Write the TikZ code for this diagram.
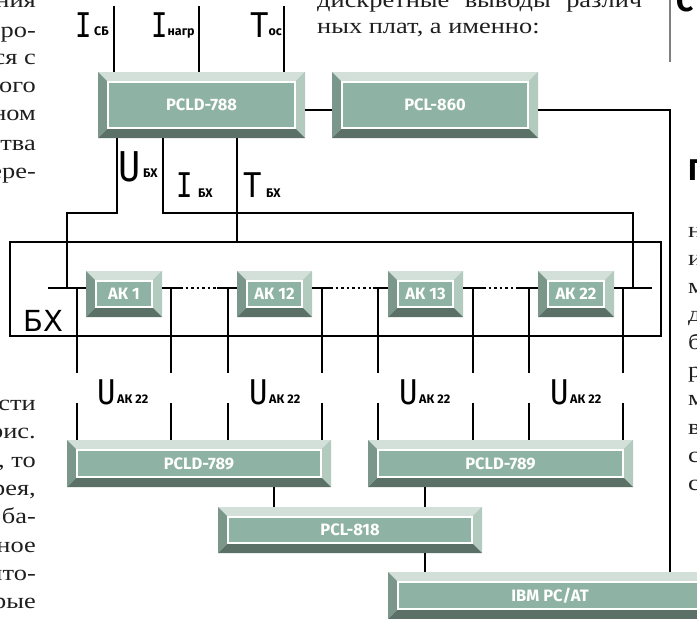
\documentclass[tikz,border=0pt]{standalone}
\usepackage{fontspec}
\usepackage{graphicx}
\newfontfamily\monofam{DejaVu Sans Mono}
\newfontfamily\dvsans{DejaVu Sans}
\newfontfamily\serfam[FakeStretch=1.2]{Liberation Serif}
\newfontfamily\firafam{Fira Sans}
\newcommand\bigfnt{\monofam\fontsize{34}{34}\selectfont}
\newcommand\bigfntL{\monofam\fontsize{41}{41}\selectfont}
\newcommand\subfnt{\firafam\bfseries\fontsize{12.5}{13}\selectfont}
\newcommand\boxfnt{\firafam\bfseries\fontsize{16.5}{17}\selectfont}
\newcommand\serfnt{\serfam\fontsize{22}{24}\selectfont}
\newcommand\headfnt{\firafam\bfseries\fontsize{30}{31}\selectfont}
\newcommand\bigltr[1]{\scalebox{0.9}[1]{#1}}
\newcommand\bigltrI[1]{\scalebox{0.8}[1]{#1}}
% big letter + subscript: #1 letter box, #2 gap, #3 raise, #4 subscript
\newcommand\sig[4]{#1\hspace*{#2}\raisebox{#3}{\subfnt #4}}
\definecolor{bvtop}{HTML}{D3E0DA}
\definecolor{bvleft}{HTML}{7B978C}
\definecolor{bvright}{HTML}{B3CABF}
\definecolor{bvbot}{HTML}{5B7067}
\definecolor{bvface}{HTML}{8EB2A4}
\tikzset{
  wire/.style={line width=2.2pt, line join=miter},
  dotw/.style={line width=2.2pt, dash pattern=on 2.6pt off 2.9pt},
  lbl/.style={inner sep=0, anchor=base west, font=\bigfnt},
  bodytxt/.style={inner sep=0, font=\serfnt, text=black!88},
  bev/.style={draw=none, fill=bvface, inner sep=0, text=white, font=\boxfnt,
    path picture={
      \coordinate (bvA) at (path picture bounding box.north west);
      \coordinate (bvB) at (path picture bounding box.north east);
      \coordinate (bvC) at (path picture bounding box.south east);
      \coordinate (bvD) at (path picture bounding box.south west);
      \coordinate (bva) at ([shift={(10pt,-10pt)}]bvA);
      \coordinate (bvb) at ([shift={(-10pt,-10pt)}]bvB);
      \coordinate (bvc) at ([shift={(-10pt,10pt)}]bvC);
      \coordinate (bvd) at ([shift={(10pt,10pt)}]bvD);
      \fill[bvtop] (bvA)--(bvB)--(bvb)--(bva)--cycle;
      \fill[bvright] (bvB)--(bvC)--(bvc)--(bvb)--cycle;
      \fill[bvbot] (bvC)--(bvD)--(bvd)--(bvc)--cycle;
      \fill[bvleft] (bvD)--(bvA)--(bva)--(bvd)--cycle;
      \draw[white, line width=1.3pt] (bva) rectangle (bvc);
    }}
}
\begin{document}
\begin{tikzpicture}[x=1pt,y=-1pt]
\useasboundingbox (0,0) rectangle (697,619);
\clip (0,0) rectangle (697,619);

% ---------- boxes (positions) ----------
\path
  node[bev, minimum width=207pt, minimum height=66pt] (pcld788) at (201.5,105) {PCLD-788}
  node[bev, minimum width=206pt, minimum height=66pt] (pcl860) at (435,105) {PCL-860}
  node[bev, minimum width=264pt, minimum height=47pt] (pcld789a) at (199,463.5) {PCLD-789}
  node[bev, minimum width=265pt, minimum height=47pt] (pcld789b) at (500.5,463.5) {PCLD-789}
  node[bev, minimum width=264pt, minimum height=46pt] (pcl818) at (350,530) {PCL-818}
  node[bev, minimum width=324pt, minimum height=47pt] (ibm) at (550,595.5) {IBM PC/AT};

% ---------- BX frame ----------
\node[draw, wire, inner sep=0, minimum width=651pt, minimum height=94pt] (bx) at (335.5,289) {};

% ---------- coordinates ----------
\coordinate (hl) at (0,110);
\coordinate (bus) at (0,288);
\coordinate (rc) at (670,110);
\coordinate (ua) at (117,213); \coordinate (ub) at (67,213); \coordinate (uc) at (67,288);
\coordinate (ia) at (163,213); \coordinate (ib) at (633,213); \coordinate (ic) at (633,288);
\coordinate (ta) at (237,0);
\coordinate (k1) at (274,0);
\coordinate (k2) at (425,0);
\coordinate (busL) at (48,288); \coordinate (busR) at (652,288);
\coordinate (d1a) at (180,288); \coordinate (d1b) at (217,288);
\coordinate (d2a) at (330,288); \coordinate (d2b) at (373,288);
\coordinate (d3a) at (483,288); \coordinate (d3b) at (518,288);

% ---------- wires ----------
\foreach \x/\n in {114/a,199/b,284/c}{
  \coordinate (top\n) at (\x,6);
  \draw[wire] (top\n) -- (top\n |- pcld788.north);
}
\draw[wire] (pcld788.east |- hl) -- (pcl860.west |- hl);
\draw[wire] (pcl860.east |- hl) -- (rc) -- (rc |- ibm.north);
\draw[wire] (ua |- pcld788.south) -- (ua) -- (ub) -- (uc);
\draw[wire] (ia |- pcld788.south) -- (ia) -- (ib) -- (ic);
\draw[wire] (ta |- pcld788.south) -- (ta |- bx.north);

\foreach \x/\n in {77/1,171/2,228/3,322/4}{
  \coordinate (vt\n) at (\x,288); \coordinate (vb\n) at (\x,373); \coordinate (wt\n) at (\x,403);
  \draw[wire] (vt\n) -- (vb\n);
  \draw[wire] (wt\n) -- (wt\n |- pcld789a.north);
}
\foreach \x/\n in {378/5,473/6,529/7,623/8}{
  \coordinate (vt\n) at (\x,288); \coordinate (vb\n) at (\x,373); \coordinate (wt\n) at (\x,403);
  \draw[wire] (vt\n) -- (vb\n);
  \draw[wire] (wt\n) -- (wt\n |- pcld789b.north);
}
\draw[wire] (k1 |- pcld789a.south) -- (k1 |- pcl818.north);
\draw[wire] (k2 |- pcld789b.south) -- (k2 |- pcl818.north);
\draw[wire] (k2 |- pcl818.south) -- (k2 |- ibm.north);

% ---------- AK boxes ----------
\node[bev, minimum width=76pt, minimum height=46pt] (ak1) at (124,294) {АК 1};
\node[bev, minimum width=75pt, minimum height=46pt] (ak12) at (274.5,294) {АК 12};
\node[bev, minimum width=75pt, minimum height=46pt] (ak13) at (425.5,294) {АК 13};
\node[bev, minimum width=76pt, minimum height=46pt] (ak22) at (576,294) {АК 22};

\draw[wire] (busL) -- (ak1.west |- bus);
\draw[wire] (ak1.east |- bus) -- (d1a);
\draw[dotw] (d1a) -- (d1b);
\draw[wire] (d1b) -- (ak12.west |- bus);
\draw[wire] (ak12.east |- bus) -- (d2a);
\draw[dotw] (d2a) -- (d2b);
\draw[wire] (d2b) -- (ak13.west |- bus);
\draw[wire] (ak13.east |- bus) -- (d3a);
\draw[dotw] (d3a) -- (d3b);
\draw[wire] (d3b) -- (ak22.west |- bus);
\draw[wire] (ak22.east |- bus) -- (busR);

% ---------- labels ----------
\node[lbl] (lIsb) at (75,37) {\sig{\bigltrI{I}}{2.6pt}{2pt}{СБ}};
\node[lbl] (lIn) at (151,37) {\sig{\bigltrI{I}}{0pt}{2pt}{нагр}};
\node[lbl] (lTo) at (250,37) {\sig{\bigltr{T}}{0pt}{2pt}{ос}};

\node[lbl, font=\bigfntL] (lUb) at (118,181) {\sig{\bigltr{U}}{2.8pt}{4pt}{БХ}};
\node[lbl] (lIb) at (176,197) {\sig{\bigltrI{I}}{5.6pt}{0pt}{БХ}};
\node[lbl] (lTb) at (243,197) {\sig{\bigltr{T}}{4.6pt}{0pt}{БХ}};

\node[inner sep=0, anchor=base west, font=\dvsans\fontsize{29}{30}\selectfont] (lbx) at (23,331) {БХ};

\foreach \ux/\n in {97/1,249/2,399/3,550/4}{
  \node[lbl] (lUa\n) at (\ux,404) {\sig{\bigltr{U}}{1.6pt}{1pt}{АК 22}};
}

% ---------- surrounding page text ----------
\foreach \y/\t/\n in {7/ния/1,37/ро-/2,64/ся с/3,92/ого/4,120/ном/5,150/тва/6,178/ере-/7,
                      410/сти/8,438/рис./9,467/{, то}/10,495/{рея,}/11,523/ба-/12,552/ное/13,580/ито-/14,608/рые/15}{
  \node[bodytxt, anchor=base east] (lt\n) at (36,\y) {\t};
}
\node[bodytxt, anchor=base west] (rt1) at (317,7) {\makebox[325pt][s]{дискретные выводы различ}};
\node[bodytxt, anchor=base west] (rt2) at (317,33) {ных плат, а именно:};
\foreach \y/\t/\n in {237/н/1,265/и/2,293/м/3,321/д/4,349/б/5,377/р/6,405/м/7,434/в/8,462/с/9,490/с/10}{
  \node[bodytxt, anchor=base west] (rc\n) at (688,\y) {\t};
}
\node[inner sep=0, anchor=base west, font=\headfnt] (hP) at (688,180) {П};
\node[inner sep=0, anchor=base west, font=\headfnt] (hC) at (676,11) {С};
\coordinate (gl1) at (670,0); \coordinate (gl2) at (670,62);
\draw[line width=1.3pt, black!50] (gl1) -- (gl2);
\end{tikzpicture}
\end{document}
